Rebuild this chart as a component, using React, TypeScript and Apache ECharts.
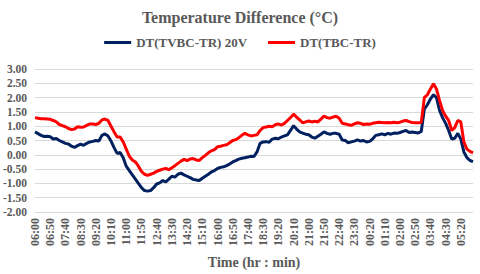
import React, { useEffect, useRef } from "react";
import * as echarts from "echarts";

const titleText = "Temperature Difference (°C)";
const seriesNames = ["DT(TVBC-TR) 20V", "DT(TBC-TR)"];
const xAxisName = "Time (hr : min)";

// 10-minute samples from 06:00 to 06:00 next day
const startMinutes = 6 * 60;
const stepMinutes = 10;
const sampleCount = 145;
const times: string[] = Array.from({ length: sampleCount }, (_, i) => {
  const m = (startMinutes + i * stepMinutes) % (24 * 60);
  const hh = String(Math.floor(m / 60)).padStart(2, "0");
  const mm = String(m % 60).padStart(2, "0");
  return `${hh}:${mm}`;
});

const dtTVBC = [
  0.80, 0.74, 0.68, 0.64, 0.65, 0.63, 0.55, 0.57, 0.50, 0.45,
  0.40, 0.38, 0.30, 0.26, 0.32, 0.37, 0.33, 0.40, 0.45, 0.47,
  0.50, 0.48, 0.68, 0.73, 0.66, 0.48, 0.25, 0.05, 0.08, -0.10,
  -0.40, -0.55, -0.70, -0.85, -1.00, -1.15, -1.25, -1.27, -1.25, -1.15,
  -1.02, -0.98, -0.90, -0.95, -0.85, -0.75, -0.78, -0.68, -0.64, -0.70,
  -0.75, -0.80, -0.86, -0.88, -0.90, -0.82, -0.75, -0.68, -0.60, -0.55,
  -0.48, -0.44, -0.42, -0.38, -0.32, -0.25, -0.20, -0.15, -0.12, -0.10,
  -0.08, -0.05, -0.06, 0.10, 0.40, 0.45, 0.46, 0.44, 0.55, 0.58,
  0.56, 0.62, 0.66, 0.70, 0.85, 1.02, 0.90, 0.80, 0.76, 0.72,
  0.70, 0.62, 0.58, 0.65, 0.72,
  0.80, 0.75, 0.72, 0.75, 0.75,
  0.72, 0.52, 0.50, 0.42, 0.45, 0.48, 0.52, 0.48, 0.50, 0.45,
  0.47, 0.55, 0.68, 0.70, 0.73, 0.70, 0.75, 0.72, 0.76, 0.75,
  0.78, 0.82, 0.85, 0.78, 0.80, 0.78, 0.76, 0.82, 1.60, 1.75,
  1.95, 2.10, 2.00, 1.55, 1.30, 1.10, 0.85, 0.55, 0.58, 0.75,
  0.55, 0.10, -0.10, -0.20, -0.24,
];

const dtTBC = [
  1.30, 1.28, 1.26, 1.26, 1.25, 1.24, 1.20, 1.15, 1.06, 1.02,
  0.98, 0.92, 0.88, 0.90, 0.98, 0.96, 0.97, 1.03, 1.08, 1.08,
  1.06, 1.10, 1.22, 1.25, 1.20, 1.00, 0.80, 0.62, 0.62, 0.45,
  0.20, -0.05, -0.18, -0.25, -0.40, -0.58, -0.68, -0.72, -0.68, -0.64,
  -0.58, -0.54, -0.50, -0.48, -0.52, -0.45, -0.38, -0.30, -0.22, -0.16,
  -0.20, -0.15, -0.13, -0.18, -0.20, -0.10, -0.02, 0.07, 0.14, 0.18,
  0.28, 0.30, 0.33, 0.35, 0.42, 0.50, 0.53, 0.60, 0.68, 0.75,
  0.70, 0.66, 0.68, 0.70, 0.85, 0.95, 0.97, 1.00, 0.98, 1.05,
  1.08, 1.04, 1.10, 1.20, 1.30, 1.42, 1.32, 1.22, 1.12, 1.15,
  1.18, 1.15, 1.17, 1.15, 1.25,
  1.35, 1.30, 1.28, 1.32, 1.35,
  1.28, 1.10, 1.08, 1.05, 1.03, 1.08, 1.12, 1.10, 1.06, 1.08,
  1.07, 1.10, 1.12, 1.14, 1.13, 1.12, 1.13, 1.12, 1.14, 1.12,
  1.14, 1.18, 1.20, 1.16, 1.13, 1.12, 1.12, 1.13, 2.00, 2.10,
  2.30, 2.48, 2.30, 1.90, 1.55, 1.35, 1.20, 0.85, 0.95, 1.20,
  1.15, 0.45, 0.20, 0.12, 0.07,
];

const colors = ["#002060", "#FF0000"];
const FONT = "Liberation Serif";
const TEXT = "#595959";

export default function App() {
  const ref = useRef<HTMLDivElement>(null);
  useEffect(() => {
    if (!ref.current) return;
    const chart = echarts.init(ref.current, undefined, { renderer: "svg" });
    chart.setOption({
      animation: false,
      textStyle: { fontFamily: FONT },
      title: {
        text: titleText,
        left: "center",
        top: 4,
        textStyle: { fontFamily: FONT, fontWeight: "bold", fontSize: 16, color: TEXT },
      },
      legend: {
        top: 31,
        left: "center",
        icon: "rect",
        itemWidth: 27,
        itemHeight: 3,
        itemGap: 21,
        textStyle: { fontFamily: FONT, fontWeight: "bold", fontSize: 13, color: TEXT },
        data: seriesNames,
      },
      grid: { left: 35, right: 7, top: 69, bottom: 58, containLabel: false },
      xAxis: {
        type: "category",
        data: times,
        boundaryGap: false,
        name: xAxisName,
        nameLocation: "middle",
        nameGap: 43,
        nameTextStyle: { fontFamily: FONT, fontWeight: "bold", fontSize: 14, color: TEXT },
        axisLine: { lineStyle: { color: "#d9d9d9" } },
        axisTick: { show: false },
        axisLabel: {
          interval: 4,
          rotate: 90,
          margin: 6,
          fontFamily: FONT,
          fontWeight: "bold",
          fontSize: 12,
          color: TEXT,
        },
        splitLine: { show: false },
      },
      yAxis: {
        type: "value",
        min: -2,
        max: 3,
        interval: 0.5,
        axisLine: { show: false },
        axisTick: { show: false },
        axisLabel: {
          margin: 8,
          fontFamily: FONT,
          fontWeight: "bold",
          fontSize: 11.5,
          color: TEXT,
          formatter: (v: number) => v.toFixed(2),
        },
        splitLine: { lineStyle: { color: "#d9d9d9", width: 1 } },
      },
      series: [
        {
          name: seriesNames[0],
          type: "line",
          data: dtTVBC,
          symbol: "none",
          lineStyle: { color: colors[0], width: 3 },
          itemStyle: { color: colors[0] },
        },
        {
          name: seriesNames[1],
          type: "line",
          data: dtTBC,
          symbol: "none",
          lineStyle: { color: colors[1], width: 3 },
          itemStyle: { color: colors[1] },
        },
      ],
    });
    return () => chart.dispose();
  }, []);
  return (
    <div
      ref={ref}
      style={{ position: "absolute", left: 0, top: 0, width: 480, height: 274, background: "#fff" }}
    />
  );
}
